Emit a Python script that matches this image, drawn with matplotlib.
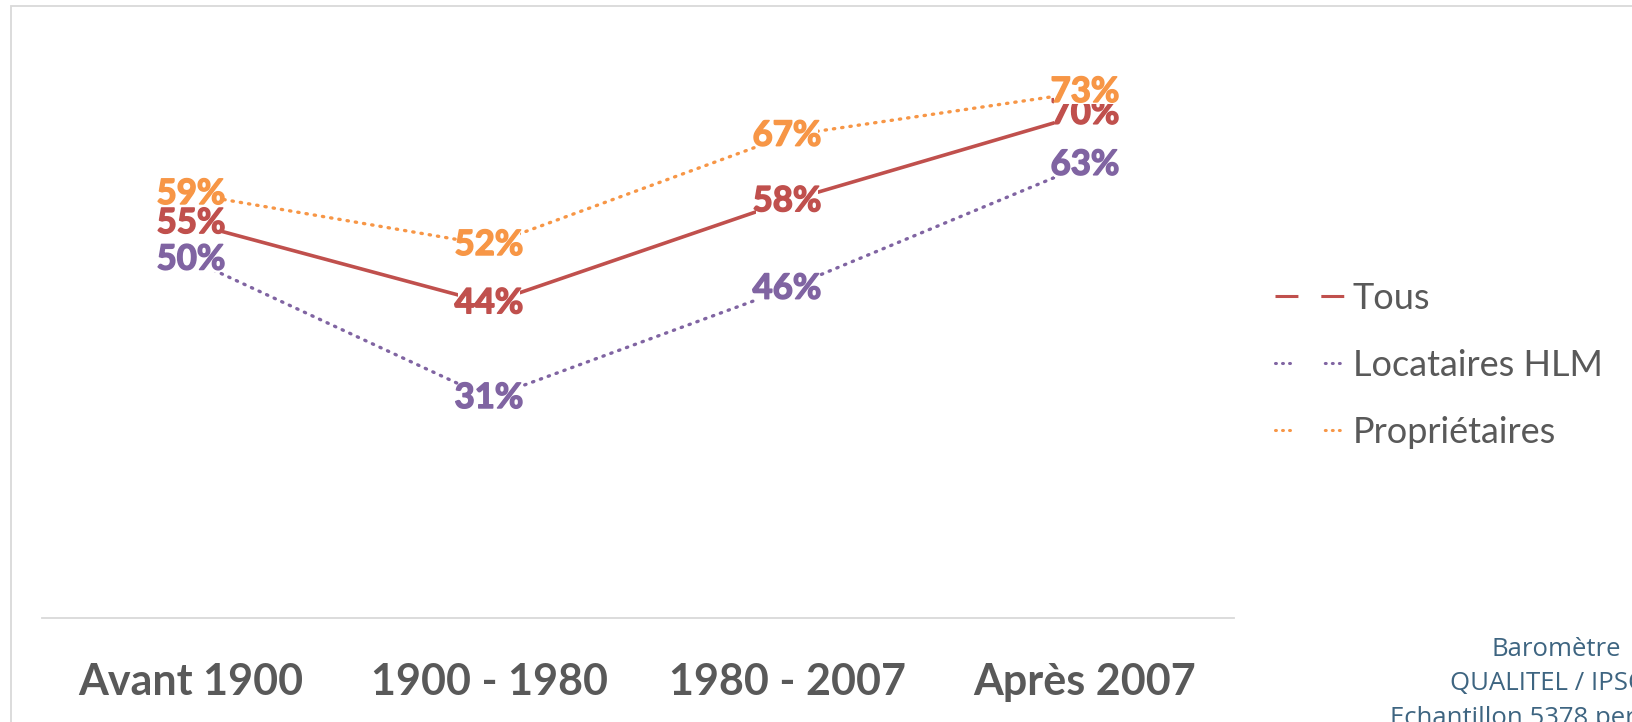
import matplotlib.pyplot as plt
import matplotlib.patheffects as pe
from matplotlib.lines import Line2D
from matplotlib.patches import Rectangle

plt.rcParams['font.family'] = ['Lato', 'DejaVu Sans']

# données
categories = ["Avant 1900", "1900 - 1980", "1980 - 2007", "Après 2007"]
tous = [55, 44, 58, 70]
locataires = [50, 31, 46, 63]
proprietaires = [59, 52, 67, 73]

dot = (0, (0.4, 2.1))
series = [
    ("Tous", tous, "#C0504D", "-"),
    ("Locataires HLM", locataires, "#8064A2", dot),
    ("Propriétaires", proprietaires, "#F79646", dot),
]

fig = plt.figure(figsize=(16.33, 7.22), dpi=100)
ax = fig.add_axes([0.0257, 0.1446, 0.73, 0.8074])

x = list(range(len(categories)))
for name, vals, col, ls in series:
    ax.plot(x, vals, color=col, lw=2.6 if ls == "-" else 2.4, linestyle=ls,
            dash_capstyle="round", solid_capstyle="round", zorder=2)

# étiquettes de données (fond blanc, posées sur le point)
for name, vals, col, ls in series:
    for xi, v in zip(x, vals):
        ax.text(xi, v, f"{v}%", color=col, fontsize=25, fontweight="bold",
                ha="center", va="center", zorder=5,
                path_effects=[pe.withStroke(linewidth=1.1, foreground=col)],
                bbox=dict(facecolor="white", edgecolor="none", pad=-2.5))

ax.set_xlim(-0.5, 3.5)
ax.set_ylim(0.86, 80.86)
for s in ["top", "right", "left"]:
    ax.spines[s].set_visible(False)
ax.spines["bottom"].set_color("#D9D9D9")
ax.spines["bottom"].set_linewidth(1.3)
ax.set_yticks([])
ax.set_xticks(x)
ax.set_xticklabels(categories, fontsize=31, fontweight="bold", color="#595959")
ax.tick_params(axis="x", length=0, pad=32)

# légende (tirets / pointillés à la façon Excel)
grp = (0, (0.3, 2.0, 0.3, 2.0, 0.3, 11.4))
handles = [
    Line2D([], [], color="#C0504D", lw=2.2, linestyle=(0, (7.5, 7.5)), dash_capstyle="butt"),
    Line2D([], [], color="#8064A2", lw=2.2, linestyle=grp, dash_capstyle="round"),
    Line2D([], [], color="#F79646", lw=2.2, linestyle=grp, dash_capstyle="round"),
]
leg = fig.legend(handles, [s[0] for s in series], loc="center left",
                 bbox_to_anchor=(0.7806, 0.494), frameon=False, fontsize=26,
                 handlelength=1.98, handletextpad=0.18, labelspacing=0.94,
                 labelcolor="#595959", borderpad=0, borderaxespad=0)

# source
fig.text(0.953, 0.118, "Baromètre\nQUALITEL / IPSOS\nEchantillon 5378 personnes",
         ha="center", va="top", fontsize=18.5, color="#3E6581",
         linespacing=1.5, family="Open Sans")

# cadre
fig.add_artist(Rectangle((11 / 1633, -0.1), 1.2, 1.1 - 6 / 722,
                         transform=fig.transFigure, fill=False,
                         edgecolor="#D9D9D9", lw=1.3))

fig.savefig("out.png", dpi=100)
